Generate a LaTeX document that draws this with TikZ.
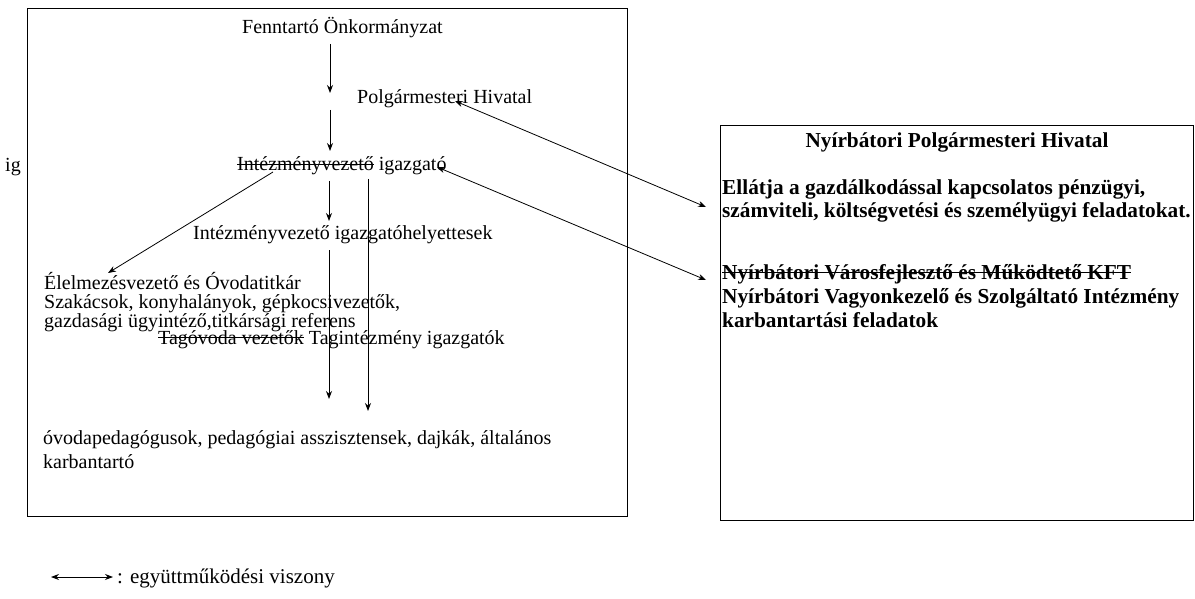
\documentclass[tikz,border=0pt]{standalone}
\usepackage{fontspec}
\setmainfont{Liberation Serif}
\usetikzlibrary{arrows.meta}
\newsavebox\strkbox
\newcommand\strk[1]{\sbox\strkbox{#1}\rlap{\usebox\strkbox}\rule[0.3em]{\wd\strkbox}{0.8pt}}
\begin{document}
\begin{tikzpicture}[x=1pt,y=-1pt,
  txt/.style={anchor=base west,inner sep=0pt,font=\fontsize{20}{22}\selectfont},
  btxt/.style={anchor=base west,inner sep=0pt,font=\fontsize{21.3}{24}\selectfont\bfseries},
  frame/.style={draw,line width=0.9pt},
  arr/.style={line width=0.8pt,-{Stealth[length=8pt,width=6pt]}},
  barr/.style={line width=0.8pt,{Stealth[length=8pt,width=6pt]}-{Stealth[length=8pt,width=6pt]}}]
\useasboundingbox (0,0) rectangle (1195,599);
% frames
\draw[frame] (27,8) rectangle (627,516);
\draw[frame] (720,125) rectangle (1193,520);
% left texts
\node[txt] (fenn) at (242,34) {Fenntartó Önkormányzat};
\node[txt] (polg) at (357,104) {Polgármesteri Hivatal};
\node[txt] (ivig) at (237,171) {\strk{Intézményvezető} igazgató};
\node[txt] (ig) at (5,172) {ig};
\node[txt] (ivh) at (193,240) {Intézményvezető igazgatóhelyettesek};
\node[txt] (elel) at (44,289) {Élelmezésvezető és Óvodatitkár};
\node[txt] (szak) at (44,308) {Szakácsok, konyhalányok, gépkocsivezetők,};
\node[txt] (gazd) at (44,327) {gazdasági ügyintéző,titkársági referens};
\node[txt] (tag) at (158,344) {\strk{Tagóvoda vezetők} Tagintézmény igazgatók};
\node[txt] (ovoda) at (43,444) {óvodapedagógusok, pedagógiai asszisztensek, dajkák, általános};
\node[txt] (karb) at (43,468) {karbantartó};
% right texts
\node[btxt,anchor=base] (rtitle) at (957,148) {Nyírbátori Polgármesteri Hivatal};
\node[btxt] (r1) at (722,194) {Ellátja a gazdálkodással kapcsolatos pénzügyi,};
\node[btxt] (r2) at (722,218) {számviteli, költségvetési és személyügyi feladatokat.};
\node[btxt] (r3) at (722,279) {\strk{Nyírbátori Városfejlesztő és Működtető KFT}};
\node[btxt] (r4) at (722,303) {Nyírbátori Vagyonkezelő és Szolgáltató Intézmény};
\node[btxt] (r5) at (722,327) {karbantartási feladatok};
% connector ends
\coordinate (a1s) at (330,44);  \coordinate (a1e) at (330,93);
\coordinate (a2s) at (330,110); \coordinate (a2e) at (330,151);
\coordinate (a3s) at (273,172); \coordinate (a3e) at (108,273);
\coordinate (a4s) at (329,181); \coordinate (a4e) at (329,221);
\coordinate (a5s) at (368,179); \coordinate (a5e) at (368,411);
\coordinate (a6s) at (329,250); \coordinate (a6e) at (329,399);
\coordinate (c1s) at (455,101); \coordinate (c1e) at (706,207);
\coordinate (c2s) at (437,167); \coordinate (c2e) at (706,280);
\draw[arr] (a1s) -- (a1e);
\draw[arr] (a2s) -- (a2e);
\draw[arr] (a3s) -- (a3e);
\draw[arr] (a4s) -- (a4e);
\draw[arr] (a5s) -- (a5e);
\draw[arr] (a6s) -- (a6e);
\draw[barr] (c1s) -- (c1e);
\draw[barr] (c2s) -- (c2e);
% legend
\coordinate (ls) at (51,577); \coordinate (le) at (113,577);
\draw[barr] (ls) -- (le);
\node[txt,font=\fontsize{21}{23}\selectfont] (legend) at (117,583) {: együttműködési viszony};
\end{tikzpicture}
\end{document}
